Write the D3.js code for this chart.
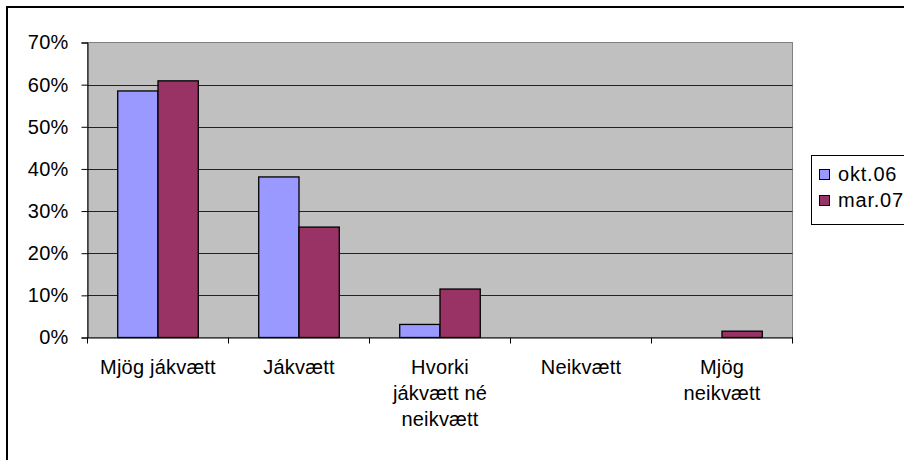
<!DOCTYPE html>
<html>
<head>
<meta charset="utf-8">
<script src="https://cdn.jsdelivr.net/npm/d3@7"></script>
<style>
  html, body { margin: 0; padding: 0; background: #ffffff; }
  svg { display: block; }
  text { font-family: "Liberation Sans", Arial, sans-serif; fill: #000; }
</style>
</head>
<body>
<svg id="chart" width="904" height="460"></svg>
<script>
const categories = ["Mjög jákvætt", "Jákvætt", "Hvorki jákvætt né neikvætt", "Neikvætt", "Mjög neikvætt"];
const categoryLines = [["Mjög jákvætt"], ["Jákvætt"], ["Hvorki", "jákvætt né", "neikvætt"], ["Neikvætt"], ["Mjög", "neikvætt"]];
const seriesNames = ["okt.06", "mar.07"];
const okt06 = [0.585, 0.381, 0.031, 0, 0];
const mar07 = [0.609, 0.262, 0.115, 0, 0.015];
const yTicks = [0, 0.1, 0.2, 0.3, 0.4, 0.5, 0.6, 0.7];
const colors = ["#9999FF", "#993366"];

const svg = d3.select("#chart");
const fontSize = 20;
const plot = { left: 87.5, right: 792.5, top: 42.5, bottom: 337.5 };

// outer chart border (extends past right and bottom)
svg.append("rect")
  .attr("x", 7).attr("y", 7)
  .attr("width", 1000).attr("height", 1000)
  .attr("fill", "none").attr("stroke", "#000").attr("stroke-width", 2);

const x = d3.scaleBand().domain(categories).range([plot.left, plot.right]).paddingInner(0).paddingOuter(0);
const bw = x.bandwidth();
const barW = bw / (seriesNames.length + 1.5);
const xs = d3.scaleBand().domain(seriesNames).range([0.75 * barW, bw - 0.75 * barW]).padding(0);
const y = d3.scaleLinear().domain([0, 0.7]).range([plot.bottom, plot.top]);

// plot background
svg.append("rect")
  .attr("x", plot.left).attr("y", plot.top)
  .attr("width", plot.right - plot.left).attr("height", plot.bottom - plot.top)
  .attr("fill", "#C0C0C0").attr("stroke", "#808080").attr("stroke-width", 1);

// gridlines
svg.append("g").selectAll("line")
  .data(yTicks.filter(t => t > 0 && t < 0.7))
  .join("line")
  .attr("x1", plot.left).attr("x2", plot.right)
  .attr("y1", d => Math.round(y(d)) + 0.5).attr("y2", d => Math.round(y(d)) + 0.5)
  .attr("stroke", "#222").attr("stroke-width", 1);

// bars
const rows = categories.map((c, i) => ({ cat: c, vals: [okt06[i], mar07[i]] }));
const groups = svg.append("g").selectAll("g")
  .data(rows).join("g")
  .attr("transform", d => `translate(${x(d.cat)},0)`);
groups.selectAll("rect")
  .data(d => d.vals.map((v, j) => ({ v, s: seriesNames[j], j })).filter(e => e.v > 0))
  .join("rect")
  .attr("x", e => xs(e.s))
  .attr("width", xs.bandwidth())
  .attr("y", e => y(e.v))
  .attr("height", e => y(0) - y(e.v))
  .attr("fill", e => colors[e.j])
  .attr("stroke", "#000").attr("stroke-width", 1.3);

// y axis
const yAxis = svg.append("g")
  .attr("transform", `translate(${plot.left},0)`)
  .call(d3.axisLeft(y).tickValues(yTicks).tickFormat(d3.format(".0%")).tickSize(6).tickPadding(13));
yAxis.select(".domain").attr("stroke", "#000");
yAxis.selectAll(".tick line").attr("stroke", "#000");
yAxis.selectAll("text")
  .style("font-size", fontSize + "px")
  .style("letter-spacing", "0.2px")
  .attr("fill", "#000");

// x axis
const xAxis = svg.append("g")
  .attr("transform", `translate(0,${plot.bottom})`)
  .call(d3.axisBottom(x).tickSize(0).tickFormat(""));
xAxis.select(".domain").attr("stroke", "#000");
svg.append("g").selectAll("line")
  .data(d3.range(categories.length + 1))
  .join("line")
  .attr("x1", i => plot.left + i * bw).attr("x2", i => plot.left + i * bw)
  .attr("y1", plot.bottom).attr("y2", plot.bottom + 6)
  .attr("stroke", "#000");

const labels = svg.append("g").selectAll("text")
  .data(categories.map((c, i) => ({ c, lines: categoryLines[i] })))
  .join("text")
  .attr("text-anchor", "middle")
  .style("font-size", fontSize + "px")
  .style("letter-spacing", "0.2px")
  .attr("transform", d => `translate(${x(d.c) + bw / 2},374)`);
labels.selectAll("tspan")
  .data(d => d.lines)
  .join("tspan")
  .attr("x", 0)
  .attr("y", (l, i) => i * 26)
  .text(l => l);

// legend
const legend = svg.append("g");
legend.append("rect")
  .attr("x", 811.5).attr("y", 155.5)
  .attr("width", 200).attr("height", 69)
  .attr("fill", "#fff").attr("stroke", "#000").attr("stroke-width", 1);
const li = legend.selectAll("g.item")
  .data(seriesNames).join("g")
  .attr("class", "item")
  .attr("transform", (d, i) => `translate(819,${169 + i * 26})`);
li.append("rect")
  .attr("x", 0.5).attr("y", 0.5)
  .attr("width", 10).attr("height", 10)
  .attr("fill", (d, i) => colors[i]).attr("stroke", "#000").attr("stroke-width", 1);
li.append("text")
  .attr("x", 19).attr("y", 12)
  .style("font-size", fontSize + "px")
  .style("letter-spacing", "0.8px")
  .text(d => d);
</script>
</body>
</html>
